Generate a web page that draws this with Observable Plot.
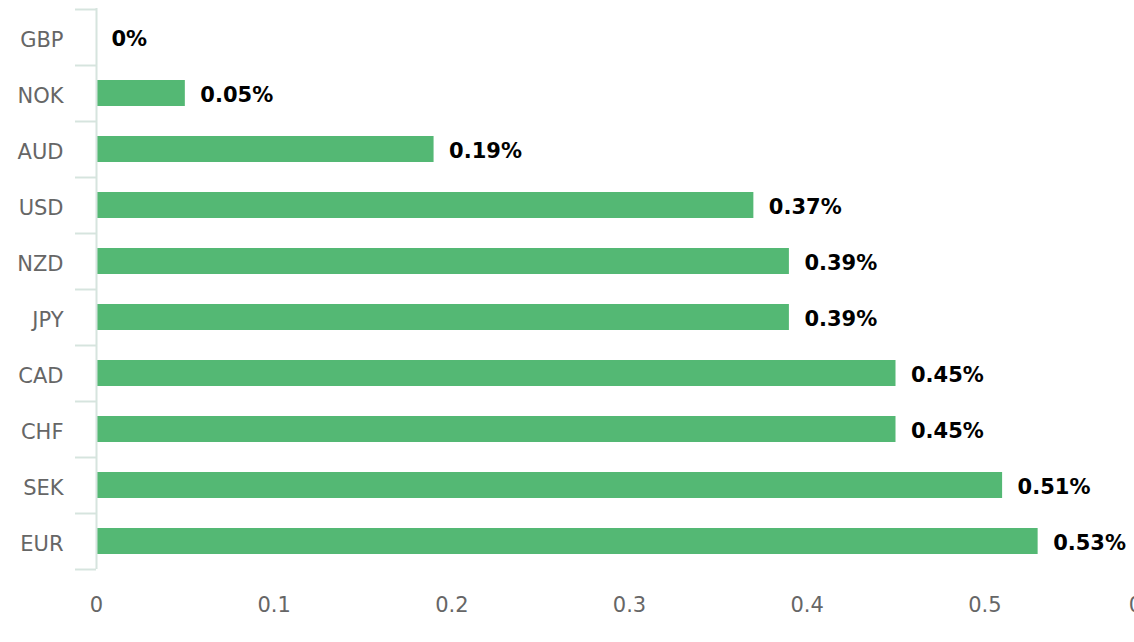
<!DOCTYPE html>
<html>
<head>
<meta charset="utf-8">
<script src="https://cdn.jsdelivr.net/npm/d3@7"></script>
<script src="https://cdn.jsdelivr.net/npm/@observablehq/plot@0.6"></script>
<style>
  html, body { margin: 0; padding: 0; background: #fff; overflow: hidden; }
  #chart svg { max-width: none !important; display: block; }
</style>
</head>
<body>
<div id="chart"></div>
<script>
const currencies = ["GBP", "NOK", "AUD", "USD", "NZD", "JPY", "CAD", "CHF", "SEK", "EUR"];
const changes = [0, 0.05, 0.19, 0.37, 0.39, 0.39, 0.45, 0.45, 0.51, 0.53];
const xTicks = [0, 0.1, 0.2, 0.3, 0.4, 0.5];
const xLastTick = [0.6];

const data = currencies.map((c, i) => ({currency: c, value: changes[i]}));
const axisColor = "#d6e4de";
const font = "DejaVu Sans, Verdana, sans-serif";

const chart = Plot.plot({
  width: 1200,
  height: 642,
  marginLeft: 96,
  marginRight: 38,
  marginTop: 8,
  marginBottom: 73,
  style: {fontFamily: font, background: "#fff", overflow: "visible"},
  x: {domain: [0, 0.6]},
  y: {domain: currencies, padding: 0},
  marks: [
    Plot.barX(data, {y: "currency", x: "value", fill: "#54b874", insetTop: 15, insetBottom: 15}),
    Plot.text(data, {
      y: "currency", x: "value", text: d => d.value + "%",
      textAnchor: "start", dx: 15, dy: 2, fontWeight: "bold", fontSize: 21, fill: "#000"
    }),
    Plot.ruleX([0], {stroke: axisColor, strokeWidth: 2}),
    Plot.axisY({tickSize: 21, stroke: axisColor, strokeWidth: 2, text: null, dy: -28, label: null}),
    Plot.axisY({ticks: ["EUR"], tickSize: 21, stroke: axisColor, strokeWidth: 2, text: null, dy: 28, label: null}),
    Plot.axisY({tickSize: 0, tickPadding: 33, fontSize: 21, fill: "#666", dy: 3, label: null}),
    Plot.axisX({ticks: xTicks, tickSize: 0, tickPadding: 28, fontSize: 21, fill: "#666", tickFormat: d => String(d), label: null}),
    Plot.axisX({ticks: xLastTick, tickSize: 0, tickPadding: 28, fontSize: 21, fill: "#666", dx: -17, tickFormat: d => String(d), label: null})
  ]
});
document.getElementById("chart").appendChild(chart);
</script>
</body>
</html>
